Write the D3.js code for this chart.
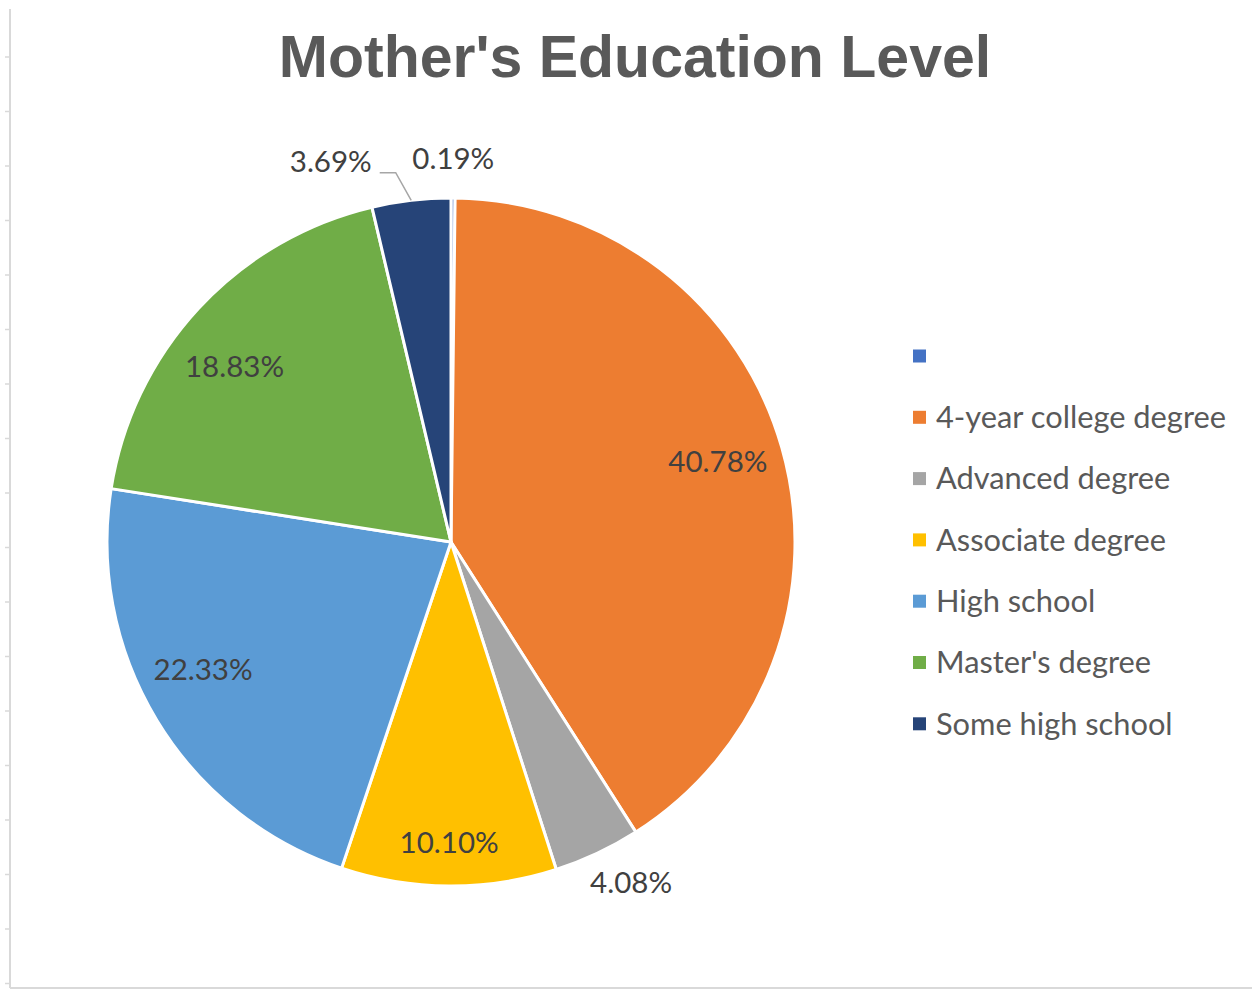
<!DOCTYPE html>
<html>
<head>
<meta charset="utf-8">
<script src="https://cdn.jsdelivr.net/npm/d3@7"></script>
<style>
  html, body { margin: 0; padding: 0; background: #fff; }
  svg { display: block; }
</style>
</head>
<body>
<svg id="chart" width="1252" height="990"></svg>
<script>
// Mother's education level, share of respondents (%)
const categories = ["", "4-year college degree", "Advanced degree", "Associate degree",
                    "High school", "Master's degree", "Some high school"];
const values = [0.19, 40.78, 4.08, 10.10, 22.33, 18.83, 3.69];
const valueLabels = ["0.19%", "40.78%", "4.08%", "10.10%", "22.33%", "18.83%", "3.69%"];
const colors = ["#4472C4", "#ED7D31", "#A5A5A5", "#FFC000", "#5B9BD5", "#70AD47", "#264478"];

const W = 1252, H = 990;
const cx = 451, cy = 542, R = 344;

const svg = d3.select("#chart");

// sheet edge lines with row ticks on the left
const frame = svg.append("g").attr("stroke", "#d9d9d9").attr("stroke-width", 2);
frame.append("line").attr("x1", 10).attr("x2", 10).attr("y1", 9).attr("y2", 988);
frame.append("line").attr("x1", 10).attr("x2", W).attr("y1", 988).attr("y2", 988);
frame.selectAll("line.tick")
  .data(d3.range(57, 988, 54.5))
  .join("line").attr("class", "tick")
  .attr("x1", 5).attr("x2", 10)
  .attr("y1", d => d).attr("y2", d => d)
  .attr("stroke-width", 1.5);

// title
svg.append("text")
  .attr("x", 635).attr("y", 77)
  .attr("text-anchor", "middle")
  .attr("font-family", "'Liberation Sans', Arial, sans-serif")
  .attr("font-weight", "bold")
  .attr("font-size", 59)
  .attr("fill", "#595959")
  .text("Mother's Education Level");

const data = categories.map((c, i) => ({ cat: c, value: values[i], label: valueLabels[i], color: colors[i] }));

const pie = d3.pie().sort(null).value(d => d.value);
const arcs = pie(data);
const arc = d3.arc().innerRadius(0).outerRadius(R);

const g = svg.append("g").attr("transform", `translate(${cx},${cy})`);

g.selectAll("path.slice")
  .data(arcs)
  .join("path").attr("class", "slice")
  .attr("d", arc)
  .attr("fill", d => d.data.color)
  .attr("stroke", "#fff")
  .attr("stroke-width", 3)
  .attr("stroke-linejoin", "round");

// label placement: radius as a fraction of R and a small angular nudge (degrees)
const placement = {
  "":                     { r: 1.113, turn: 0 },
  "4-year college degree": { r: 0.81, turn: -0.8 },
  "Advanced degree":       { r: 1.12, turn: -2.7 },
  "Associate degree":      { r: 0.875, turn: 0 },
  "High school":           { r: 0.81, turn: 4.1 },
  "Master's degree":       { r: 0.81, turn: -3.8 },
  "Some high school":      { r: 1.113, turn: 0 }
};
const labelFont = "Lato, 'Open Sans', sans-serif";
const labelSize = 29.5;
const legendSize = 30.8;

function pointAt(a, r, turn) {
  const ang = (a.startAngle + a.endAngle) / 2 + (turn || 0) * Math.PI / 180;
  return [r * Math.sin(ang), -r * Math.cos(ang)];
}

const labels = g.append("g")
  .attr("font-family", labelFont)
  .attr("font-size", labelSize)
  .attr("fill", "#404040");

arcs.forEach(a => {
  const p = placement[a.data.cat];
  const [x, y] = pointAt(a, R * p.r, p.turn);
  if (a.data.cat === "Some high school") {
    // pushed left of its neighbour, with a leader line back to the arc
    const endX = x - 35;
    labels.append("text").attr("x", endX).attr("y", y)
      .attr("text-anchor", "end").attr("dy", "0.35em")
      .text(a.data.label);
    const [ex, ey] = pointAt(a, R, 0);
    g.append("path")
      .attr("d", d3.line()([[endX + 8, y + 11], [endX + 24, y + 11], [ex, ey]]))
      .attr("fill", "none").attr("stroke", "#a6a6a6").attr("stroke-width", 1.5);
  } else {
    labels.append("text").attr("x", x).attr("y", y)
      .attr("text-anchor", "middle").attr("dy", "0.35em")
      .text(a.data.label);
  }
});

// legend
const legend = svg.append("g").attr("transform", "translate(913,356)");
const rowH = 61.3;
const item = legend.selectAll("g.item")
  .data(data)
  .join("g").attr("class", "item")
  .attr("transform", (d, i) => `translate(0,${i * rowH})`);
item.append("rect")
  .attr("x", 0).attr("y", -6.5).attr("width", 13).attr("height", 13)
  .attr("fill", d => d.color);
item.append("text")
  .attr("x", 23).attr("dy", "0.35em")
  .attr("font-family", labelFont)
  .attr("font-size", legendSize)
  .attr("fill", "#595959")
  .text(d => d.cat);
</script>
</body>
</html>
